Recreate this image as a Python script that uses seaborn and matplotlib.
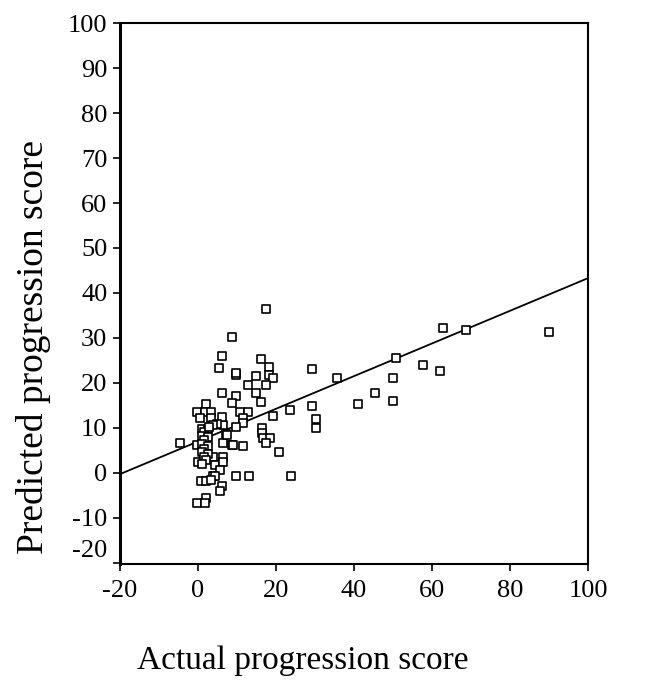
import matplotlib
matplotlib.use("Agg")
import matplotlib.pyplot as plt
import matplotlib.transforms as mtransforms
import seaborn as sns
import pandas as pd

actual = [17.4, 8.8, 6.3, 16.3, 5.5, 18.3, 9.7, 9.9, 15.0, 18.3, 19.3, 12.9, 17.4,
          15.0, 16.3, 6.3, 9.7, 8.8, 10.8, 12.9, 11.6, 11.6, 9.7, 6.4, 7.2, 6.4,
          8.8, 11.6, 20.8, 19.2, 23.6, 29.3, 29.3, 30.3, 30.3, 35.6, 16.5, 16.5,
          16.8, 18.5, 17.4, 24.0, 9.7, 13.1, -4.6,
          62.9, 68.6, 90.1, 50.9, 57.8, 62.1, 50.1, 45.4, 41.1, 50.1,
          2.1, -0.3, 1.8, 3.5, 0.5, 3.5, 6.1, 4.8, 3.9, -0.3, 7.4, 9.1, 6.5, 3.9,
          0.1, 4.4, 6.5, 5.6, 3.9, 4.4, 0.9, 2.2, 3.5, 6.1, 5.6, 2.2, -0.3, 1.8,
          1.0, 2.5, 1.5, 1.0, 2.5, 1.5, 1.0, 2.5, 1.5, 1.0, 2.5, 1.5, 2.0, 1.0, 2.8]
predicted = [36.4, 30.1, 26.0, 25.3, 23.3, 23.6, 21.8, 22.2, 21.6, 21.8, 21.0, 19.6, 19.6,
             17.7, 15.7, 17.7, 17.0, 15.5, 13.6, 13.6, 12.1, 11.0, 10.3, 10.7, 8.7, 6.6,
             6.1, 5.9, 4.6, 12.7, 14.0, 23.1, 14.9, 11.9, 9.9, 21.0, 9.9, 8.8,
             7.7, 7.7, 6.6, -0.8, -0.8, -0.8, 6.6,
             32.3, 31.8, 31.4, 25.6, 24.0, 22.7, 21.0, 17.7, 15.3, 16.0,
             15.3, 13.6, 13.6, 13.6, 12.1, 12.1, 12.5, 10.9, 10.7, 6.2, 8.4, 6.2, 3.6, 3.6,
             2.5, 1.8, 2.5, 0.7, -0.8, -0.8, -1.9, -1.9, -1.6, -3.0, -4.1, -5.5, -6.7, -6.7,
             9.8, 9.8, 9.0, 8.2, 8.0, 7.2, 6.4, 6.0, 5.3, 4.6, 4.2, 3.5, 2.8, 2.0, 10.2]

fit_x = [-20, 100]
fit_y = [-0.3, 43.3]

x_ticks = [-20, 0, 20, 40, 60, 80, 100]
y_ticks = [-20, -10, 0, 10, 20, 30, 40, 50, 60, 70, 80, 90, 100]

sns.set_style("ticks")
plt.rcParams["font.family"] = ["Liberation Serif", "DejaVu Serif"]

df = pd.DataFrame({"actual": actual, "predicted": predicted})

fig = plt.figure(figsize=(6.69, 6.8), dpi=100)
ax = fig.add_axes([0.179, 0.171, 0.7, 0.795])

sns.scatterplot(data=df, x="actual", y="predicted", marker="s", s=32,
                facecolor="white", edgecolor="black", linewidth=1.2, ax=ax, zorder=3)
sns.lineplot(x=fit_x, y=fit_y, color="black", linewidth=1.3, ax=ax, zorder=2)

ax.set_xlim(-20, 100)
ax.set_ylim(-20.2, 100)
ax.set_xticks(x_ticks)
ax.set_yticks(y_ticks)
ax.set_xticklabels([str(v) for v in x_ticks])
ax.set_yticklabels([str(v) for v in y_ticks])
ax.tick_params(axis="both", labelsize=19, length=5, width=1.2, color="black",
               labelcolor="black", direction="out")
ax.tick_params(axis="x", pad=7)
ax.tick_params(axis="y", pad=4)
for sp in ax.spines.values():
    sp.set_visible(True)
    sp.set_color("black")
    sp.set_linewidth(1.5)
ax.spines["left"].set_linewidth(2.2)

# shift the crowded -20 label upward as in the original
lbl = ax.get_yticklabels()[0]
lbl.set_transform(lbl.get_transform() + mtransforms.ScaledTranslation(0, 14 / 100, fig.dpi_scale_trans))

ax.set_xlabel("Actual progression score", fontsize=24, color="black")
ax.set_ylabel("Predicted progression score", fontsize=27, color="black")
ax.xaxis.set_label_coords(0.39, -0.152)
ax.yaxis.set_label_coords(-0.146, 0.40)
ax.grid(False)

fig.savefig("out.png", dpi=100)
